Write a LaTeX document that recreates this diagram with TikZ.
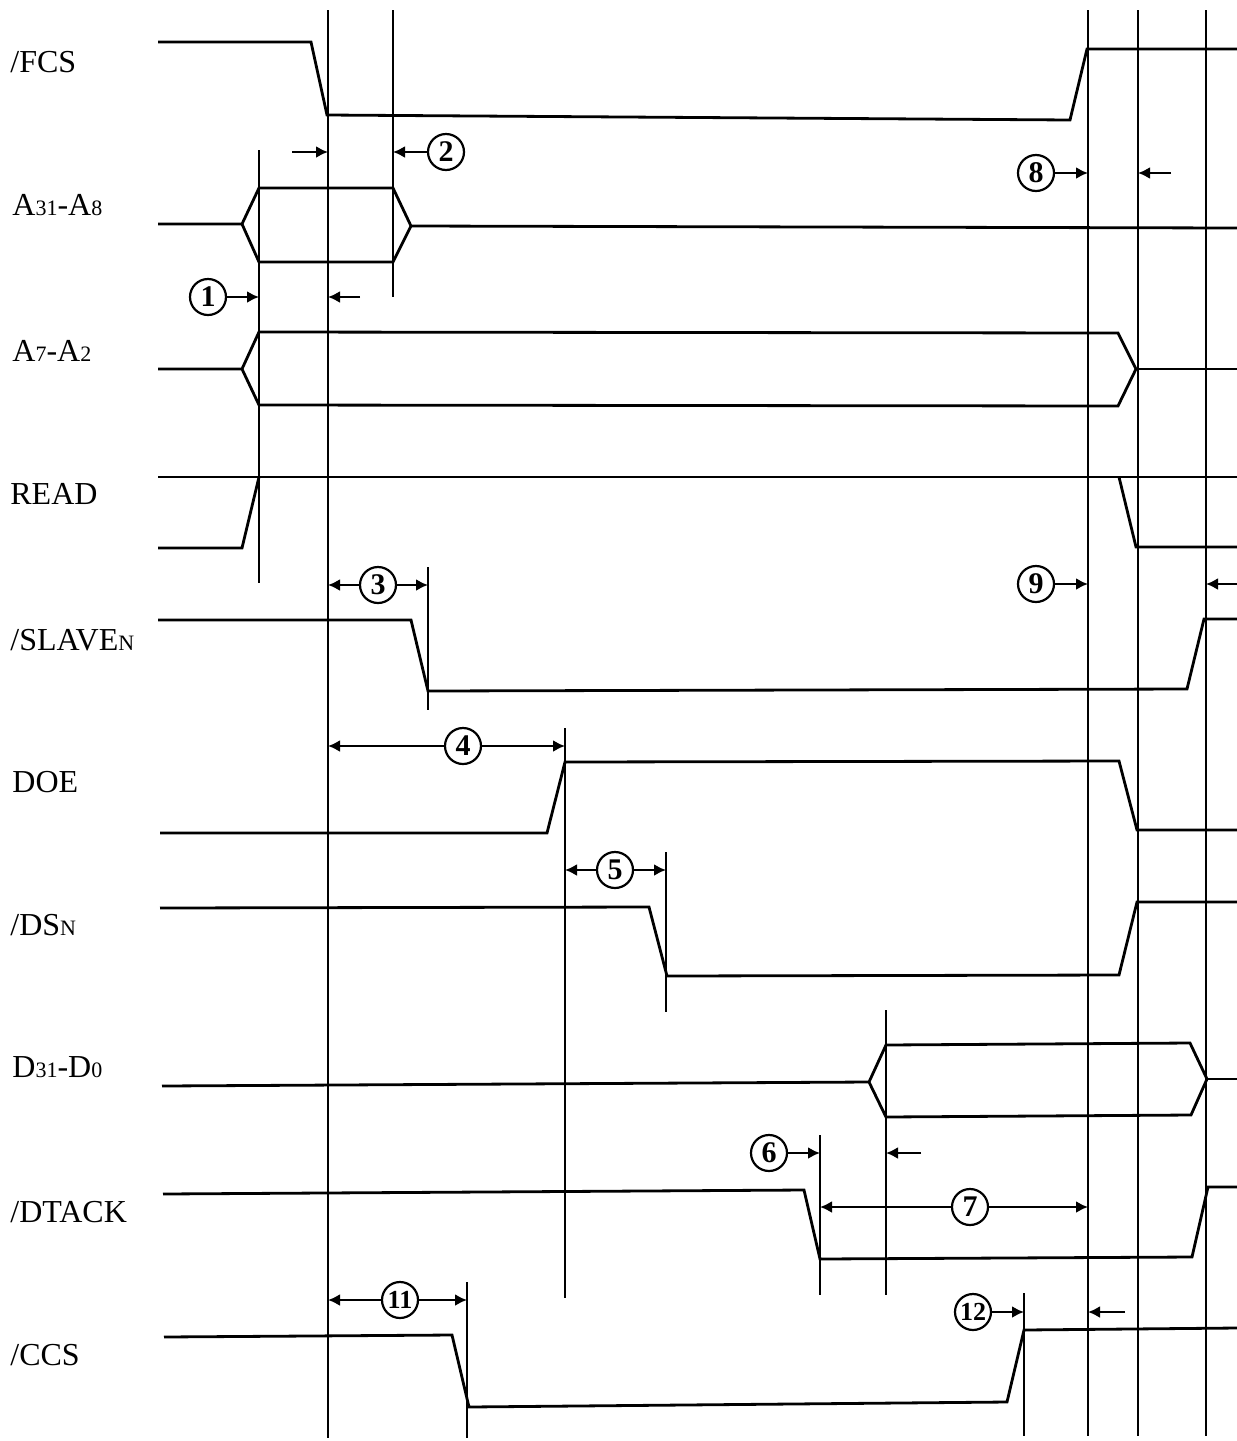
\documentclass[tikz,border=0pt]{standalone}
\usepackage{fontspec}
\setmainfont{Liberation Serif}
\usetikzlibrary{arrows.meta}
\newcommand{\lo}[1]{{\fontsize{11}{11}\selectfont #1}}
\begin{document}
\begin{tikzpicture}[>={Latex[length=6pt,width=6pt]},x=0.5pt,y=-0.5pt,
	sig/.style={line width=1.4pt},
	vl/.style={line width=1pt},
	lbl/.style={anchor=base west,inner sep=0pt,font=\fontsize{16}{18}\selectfont},
	num/.style={draw,circle,line width=1.1pt,minimum size=18pt,inner sep=0pt,font=\fontsize{15}{15}\selectfont\bfseries},
	dim/.style={line width=1.1pt}]
	\useasboundingbox (0,0) rectangle (1237,1441);
	\foreach \n/\x/\t/\b in {tA/259/150/583, tF/328/10/1438, tB/393/10/297, tS/428/567/710,
		tO/565/728/1298, tD/666/852/1012, tC/467/1282/1438, tK/820/1135/1295, tX/886/1010/1295,
		tR/1024/1293/1436, tE/1088/10/1436, tG/1138/10/1436, tH/1206/10/1436}
		{\coordinate (\n) at (\x,\t); \draw[vl] (\n) -- (\x,\b);}
	\node[lbl] (fcs) at (10,72) {/FCS};
	\node[lbl] (ahi) at (12,215) {A\lo{31}-A\lo{8}};
	\node[lbl] (alo) at (12,361) {A\lo{7}-A\lo{2}};
	\node[lbl] (rd) at (10,504) {READ};
	\node[lbl] (slv) at (10,650) {/SLAVE\lo{N}};
	\node[lbl] (doe) at (12,792) {DOE};
	\node[lbl] (dsn) at (10,935) {/DS\lo{N}};
	\node[lbl] (dat) at (12,1077) {D\lo{31}-D\lo{0}};
	\node[lbl] (dtk) at (10,1222) {/DTACK};
	\node[lbl] (ccs) at (10,1365) {/CCS};
	\draw[sig] (158,42) -- (311,42) -- (327,115) -- (1070,120) -- (1087,49) -- (1237,49);
	\draw[sig] (158,224) -- (242,224) -- (259,188) -- (393,188) -- (411,226) -- (1237,228);
	\draw[sig] (242,224) -- (259,262) -- (393,262) -- (411,226);
	\draw[sig] (158,369) -- (242,369) -- (259,332) -- (1118,333) -- (1136,369) -- (1118,406) -- (259,405) -- (242,369);
	\draw[sig] (1136,369) -- (1237,369);
	\draw[sig] (158,477) -- (1237,477);
	\draw[sig] (158,548) -- (242,548) -- (259,477);
	\draw[sig] (1119,477) -- (1136,547) -- (1237,547);
	\draw[sig] (158,620) -- (411,620) -- (428,691) -- (1187,689) -- (1204,619) -- (1237,619);
	\draw[sig] (160,833) -- (547,833) -- (565,762) -- (1119,761) -- (1137,830) -- (1237,830);
	\draw[sig] (160,908) -- (649,907) -- (667,976) -- (1119,975) -- (1137,902) -- (1237,902);
	\draw[sig] (162,1086) -- (869,1082) -- (886,1045) -- (1190,1043) -- (1207,1079) -- (1191,1115) -- (886,1117) -- (869,1082);
	\draw[sig] (1207,1079) -- (1237,1079);
	\draw[sig] (163,1194) -- (804,1190) -- (820,1259) -- (1192,1257) -- (1208,1187) -- (1237,1187);
	\draw[sig] (164,1337) -- (452,1335) -- (469,1407) -- (1007,1402) -- (1024,1330) -- (1237,1328);
	\node[num] (c1) at (208,297) {1};
	\node[num] (c2) at (446,152) {2};
	\node[num] (c3) at (378,585) {3};
	\node[num] (c4) at (463,746) {4};
	\node[num] (c5) at (615,870) {5};
	\node[num] (c6) at (769,1153) {6};
	\node[num] (c7) at (970,1207) {7};
	\node[num] (c8) at (1036,173) {8};
	\node[num] (c9) at (1036,584) {9};
	\node[num,font=\fontsize{13}{13}\selectfont\bfseries] (c11) at (400,1300) {11};
	\node[num,font=\fontsize{13}{13}\selectfont\bfseries] (c12) at (973,1312) {12};
	\coordinate (f2) at (292,152);
	\coordinate (f1) at (360,297);
	\coordinate (f8) at (1171,173);
	\coordinate (f9) at (1237,584);
	\coordinate (f6) at (921,1153);
	\coordinate (f12) at (1125,1312);
	\draw[dim,->] (c1) -- (c1 -| tA);
	\draw[dim,->] (f1) -- (f1 -| tF);
	\draw[dim,->] (c2) -- (c2 -| tB);
	\draw[dim,->] (f2) -- (f2 -| tF);
	\draw[dim,->] (c3) -- (c3 -| tF);
	\draw[dim,->] (c3) -- (c3 -| tS);
	\draw[dim,->] (c4) -- (c4 -| tF);
	\draw[dim,->] (c4) -- (c4 -| tO);
	\draw[dim,->] (c5) -- (c5 -| tO);
	\draw[dim,->] (c5) -- (c5 -| tD);
	\draw[dim,->] (c6) -- (c6 -| tK);
	\draw[dim,->] (f6) -- (f6 -| tX);
	\draw[dim,->] (c7) -- (c7 -| tK);
	\draw[dim,->] (c7) -- (c7 -| tE);
	\draw[dim,->] (c8) -- (c8 -| tE);
	\draw[dim,->] (f8) -- (f8 -| tG);
	\draw[dim,->] (c9) -- (c9 -| tE);
	\draw[dim,->] (f9) -- (f9 -| tH);
	\draw[dim,->] (c11) -- (c11 -| tF);
	\draw[dim,->] (c11) -- (c11 -| tC);
	\draw[dim,->] (c12) -- (c12 -| tR);
	\draw[dim,->] (f12) -- (f12 -| tE);
\end{tikzpicture}
\end{document}
